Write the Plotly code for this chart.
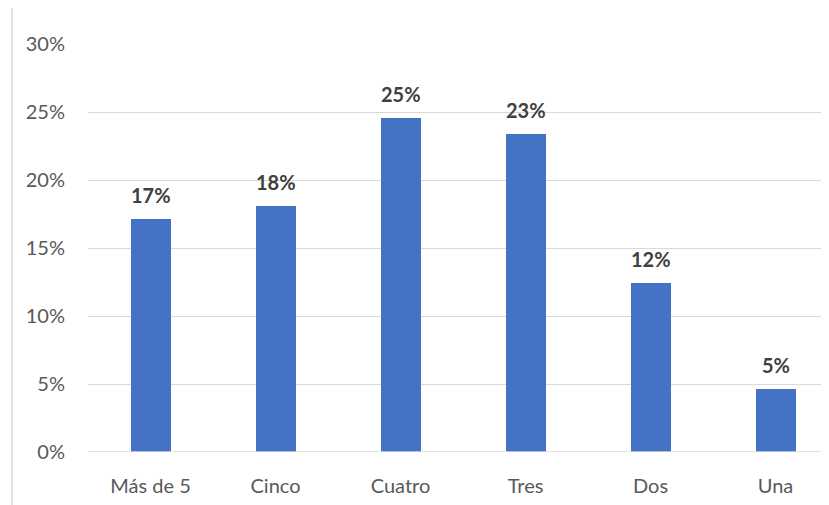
import plotly.graph_objects as go

categories = ["Más de 5", "Cinco", "Cuatro", "Tres", "Dos", "Una"]
values = [0.171, 0.181, 0.2455, 0.2335, 0.1243, 0.0463]
labels = ["17%", "18%", "25%", "23%", "12%", "5%"]
y_ticks = [0, 0.05, 0.10, 0.15, 0.20, 0.25, 0.30]
y_tick_labels = ["0%", "5%", "10%", "15%", "20%", "25%", "30%"]

OFF = 8  # default page body margin
W, H = 829 - OFF, 505 - OFF
ml, mr, mt, mb = 88 - OFF, 7, 44 - OFF, 53
FONT = "Lato, Carlito, Liberation Sans, sans-serif"

fig = go.Figure(go.Bar(
    x=categories, y=values,
    marker=dict(color="#4472C4", line=dict(width=0)),
    width=0.32, hoverinfo="x+y",
))

for c, v, t in zip(categories, values, labels):
    fig.add_annotation(x=c, y=v, text=f"<b>{t}</b>", showarrow=False,
                       yanchor="bottom", yshift=10,
                       font=dict(family=FONT, size=20, color="#404040"))

fig.update_layout(
    width=W, height=H,
    margin=dict(l=ml, r=mr, t=mt, b=mb, pad=0),
    paper_bgcolor="white", plot_bgcolor="white",
    showlegend=False,
    font=dict(family=FONT, color="#595959"),
    bargap=0,
)
fig.update_xaxes(
    range=[-0.5, 5.372], showgrid=False, showline=False, zeroline=False,
    ticks="", tickfont=dict(size=20, color="#595959"), ticklabelstandoff=20,
)
fig.update_yaxes(
    range=[0, 0.30], tickvals=y_ticks, ticktext=y_tick_labels,
    showgrid=True, gridcolor="#D9D9D9", gridwidth=1.3, zeroline=False,
    showline=False, ticks="", tickfont=dict(size=20, color="#595959"),
    ticklabelstandoff=22,
)
fig.add_shape(type="line", xref="paper", yref="paper",
              x0=(12 - OFF - ml) / (W - ml - mr), x1=(12 - OFF - ml) / (W - ml - mr),
              y0=-mb / (H - mt - mb), y1=1 + mt / (H - mt - mb),
              line=dict(color="#D9D9D9", width=1.5))
fig.add_shape(type="line", xref="paper", yref="y",
              x0=0, x1=1, y0=0, y1=0, line=dict(color="#D9D9D9", width=1.3))

fig.write_html("out.html")
